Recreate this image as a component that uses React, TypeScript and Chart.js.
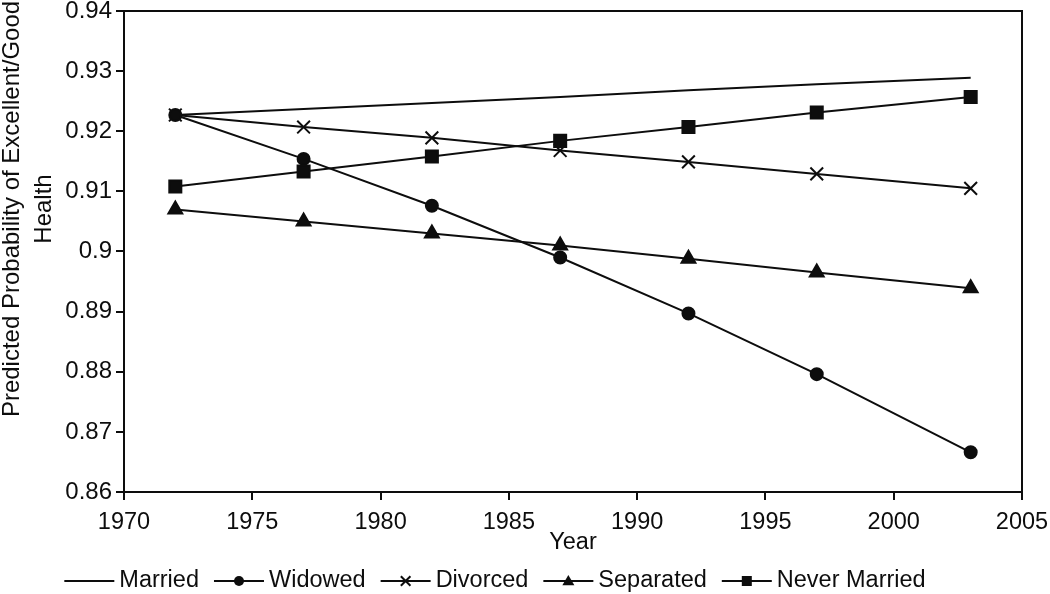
import React, { useEffect, useRef } from "react";
import { Chart, registerables } from "chart.js";

Chart.register(...registerables);

const years = [1972, 1977, 1982, 1987, 1992, 1997, 2003];
const married = [0.9227, 0.9237, 0.9247, 0.9257, 0.9268, 0.9278, 0.9289];
const widowed = [0.9227, 0.9154, 0.9076, 0.899, 0.8897, 0.8796, 0.8666];
const divorced = [0.9227, 0.9207, 0.9189, 0.9168, 0.9149, 0.9129, 0.9105];
const separated = [0.907, 0.905, 0.903, 0.901, 0.8988, 0.8965, 0.8939];
const neverMarried = [0.9108, 0.9133, 0.9158, 0.9184, 0.9207, 0.9231, 0.9257];

const seriesNames = ["Married", "Widowed", "Divorced", "Separated", "Never Married"];
const seriesStyles = ["", "circle", "crossRot", "triangle", "rect"];
const seriesRadius = [0, 6, 9, 8, 8.5];
const seriesOrder = [5, 1, 3, 2, 0];
const legendRadius = [0, 5, 6, 6, 5];
const yTicks = [0.86, 0.87, 0.88, 0.89, 0.9, 0.91, 0.92, 0.93, 0.94];
const xTicks = [1970, 1975, 1980, 1985, 1990, 1995, 2000, 2005];
const yTitleLines = ["Predicted Probability of Excellent/Good", "Health"];

const FONT = "'Liberation Sans', Arial, sans-serif";
const INK = "#0d0d0d";

function drawMarker(ctx: CanvasRenderingContext2D, style: string, x: number, y: number, r: number) {
  ctx.save();
  ctx.fillStyle = INK;
  ctx.strokeStyle = INK;
  ctx.lineWidth = 2;
  ctx.beginPath();
  if (style === "circle") {
    ctx.arc(x, y, r, 0, Math.PI * 2);
    ctx.fill();
  } else if (style === "rect") {
    ctx.fillRect(x - r, y - r, 2 * r, 2 * r);
  } else if (style === "triangle") {
    ctx.moveTo(x, y - r);
    ctx.lineTo(x + r, y + r * 0.7);
    ctx.lineTo(x - r, y + r * 0.7);
    ctx.closePath();
    ctx.fill();
  } else if (style === "crossRot") {
    ctx.moveTo(x - r * 0.8, y - r * 0.8);
    ctx.lineTo(x + r * 0.8, y + r * 0.8);
    ctx.moveTo(x + r * 0.8, y - r * 0.8);
    ctx.lineTo(x - r * 0.8, y + r * 0.8);
    ctx.stroke();
  }
  ctx.restore();
}

const boxPlugin = {
  id: "boxPlugin",
  afterDraw(chart: any) {
    const { ctx, chartArea } = chart;
    ctx.save();
    ctx.strokeStyle = INK;
    ctx.lineWidth = 2;
    ctx.strokeRect(chartArea.left, chartArea.top, chartArea.right - chartArea.left, chartArea.bottom - chartArea.top);
    ctx.fillStyle = INK;
    ctx.font = `24px ${FONT}`;
    ctx.textAlign = "center";
    ctx.textBaseline = "middle";
    const xs = [12, 44];
    yTitleLines.forEach((t, i) => {
      ctx.save();
      ctx.translate(xs[i], 209);
      ctx.rotate(-Math.PI / 2);
      ctx.fillText(t, 0, 0);
      ctx.restore();
    });
    ctx.restore();
  },
};

const legendPlugin = {
  id: "customLegend",
  afterDraw(chart: any) {
    const { ctx } = chart;
    ctx.save();
    ctx.font = `23.5px ${FONT}`;
    ctx.textBaseline = "middle";
    ctx.textAlign = "left";
    const y = 581;
    const lineLen = 50;
    const gap = 5;
    const spacing = 15;
    const widths = seriesNames.map((n) => lineLen + gap + ctx.measureText(n).width);
    const total = widths.reduce((a, b) => a + b, 0) + spacing * (seriesNames.length - 1);
    let x = 495 - total / 2;
    seriesNames.forEach((name, i) => {
      ctx.strokeStyle = INK;
      ctx.lineWidth = 2;
      ctx.beginPath();
      ctx.moveTo(x, y);
      ctx.lineTo(x + lineLen, y);
      ctx.stroke();
      if (seriesStyles[i]) drawMarker(ctx, seriesStyles[i], x + lineLen / 2, y, legendRadius[i]);
      ctx.fillStyle = INK;
      ctx.fillText(name, x + lineLen + gap, y);
      x += widths[i] + spacing;
    });
    ctx.restore();
  },
};

export default function App() {
  const ref = useRef<HTMLCanvasElement>(null);
  useEffect(() => {
    document.body.style.margin = "0";
    const mk = (i: number, data: number[]) => ({
      label: seriesNames[i],
      data: years.map((yr, k) => ({ x: yr, y: data[k] })),
      order: seriesOrder[i],
      borderColor: INK,
      backgroundColor: INK,
      borderWidth: 2,
      pointStyle: seriesStyles[i] || "circle",
      pointRadius: seriesRadius[i],
      pointBorderWidth: 2,
      pointBorderColor: INK,
      pointBackgroundColor: INK,
      tension: 0,
    });
    const chart = new Chart(ref.current!, {
      type: "line",
      data: {
        datasets: [
          mk(0, married),
          mk(1, widowed),
          mk(2, divorced),
          mk(3, separated),
          mk(4, neverMarried),
        ],
      },
      options: {
        animation: false,
        responsive: false,
        layout: { padding: { top: 10, right: 28, left: 0, bottom: 37 } },
        plugins: { legend: { display: false }, tooltip: { enabled: false } },
        scales: {
          x: {
            type: "linear",
            min: 1970,
            max: 2005,
            afterBuildTicks: (s: any) => {
              s.ticks = xTicks.map((v) => ({ value: v }));
            },
            afterFit: (s: any) => {
              s.height = 65;
              s.paddingLeft = 0;
              s.paddingRight = 0;
            },
            grid: { drawOnChartArea: false, tickLength: 8, color: INK, lineWidth: 2 },
            border: { display: false },
            ticks: {
              color: INK,
              font: { family: FONT, size: 23.5 },
              padding: 8,
              maxRotation: 0,
              autoSkip: false,
              callback: (v: any) => String(v),
            },
            title: { display: true, text: "Year", color: INK, font: { family: FONT, size: 23.5 }, padding: { top: 0, bottom: 0 } },
          },
          y: {
            min: 0.86,
            max: 0.94,
            afterBuildTicks: (s: any) => {
              s.ticks = yTicks.map((v) => ({ value: v }));
            },
            afterFit: (s: any) => {
              s.width = 124;
              s.paddingTop = 0;
              s.paddingBottom = 0;
            },
            grid: { drawOnChartArea: false, tickLength: 8, color: INK, lineWidth: 2 },
            border: { display: false },
            ticks: {
              color: INK,
              font: { family: FONT, size: 24 },
              padding: 4,
              callback: (v: any) => String(Number(Number(v).toFixed(2))),
            },
            title: { display: false },
          },
        },
      },
      plugins: [boxPlugin, legendPlugin],
    } as any);
    return () => chart.destroy();
  }, []);
  return <canvas ref={ref} width={1050} height={594} style={{ display: "block" }} />;
}
